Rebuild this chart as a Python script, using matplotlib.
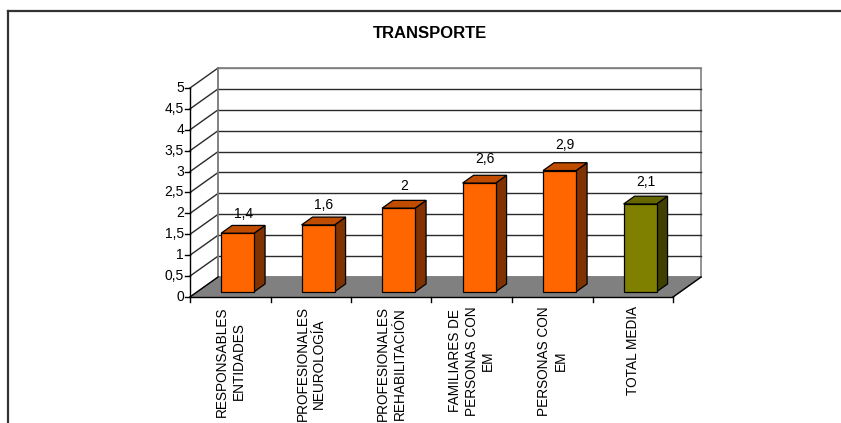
import matplotlib
matplotlib.use("Agg")
import matplotlib.pyplot as plt
from matplotlib.patches import Polygon, Rectangle
from matplotlib.lines import Line2D

plt.rcParams['font.family'] = ['Liberation Sans', 'DejaVu Sans']

# ---- data -------------------------------------------------------------
title = "TRANSPORTE"
categories = [
    "RESPONSABLES\nENTIDADES",
    "PROFESIONALES\nNEUROLOGÍA",
    "PROFESIONALES\nREHABILITACIÓN",
    "FAMILIARES DE\nPERSONAS CON\nEM",
    "PERSONAS CON\nEM",
    "TOTAL MEDIA",
]
values = [1.4, 1.6, 2.0, 2.6, 2.9, 2.1]
value_labels = ["1,4", "1,6", "2", "2,6", "2,9", "2,1"]
y_ticks = [0, 0.5, 1, 1.5, 2, 2.5, 3, 3.5, 4, 4.5, 5]
y_tick_labels = ["0", "0,5", "1", "1,5", "2", "2,5", "3", "3,5", "4", "4,5", "5"]

# ---- styling ----------------------------------------------------------
orange = dict(front="#FF6600", top="#C04C00", side="#803300")
olive = dict(front="#808000", top="#666600", side="#404000")
bar_colors = [orange] * 5 + [olive]

W, H, DPI = 841, 423, 100
fig = plt.figure(figsize=(W / DPI, H / DPI), dpi=DPI)
fig.patch.set_facecolor("white")

# oblique depth of the 3-D box, in data units
DX, DY = 0.35, 0.48
n = len(categories)
ymax = 5

# axes placed so that the front plane maps to the plot area
x0_px, y0_px = 190, 297          # front-left origin (pixels from top-left)
sx, sy = 80.5, 41.8              # pixels per category / per unit
xlim = (0, n + DX)
ylim = (0, ymax + DY)
ax_w = (xlim[1] - xlim[0]) * sx
ax_h = (ylim[1] - ylim[0]) * sy
ax = fig.add_axes([x0_px / W, (H - y0_px) / H, ax_w / W, ax_h / H])
ax.set_xlim(*xlim)
ax.set_ylim(*ylim)
ax.axis("off")

grid_col = "#2a2a2a"
wall_edge = "#808080"

# back wall
ax.add_patch(Rectangle((DX, DY), n, ymax, facecolor="white",
                       edgecolor=wall_edge, lw=1.2, clip_on=False, zorder=1))
# floor
ax.add_patch(Polygon([(0, 0), (n, 0), (n + DX, DY), (DX, DY)], closed=True,
                     facecolor="#808080", edgecolor="#808080", lw=1,
                     clip_on=False, zorder=2))

# gridlines on back wall and side wall
for v in y_ticks[1:]:
    col = wall_edge if v == ymax else grid_col
    ax.add_line(Line2D([DX, n + DX], [v + DY, v + DY], color=col, lw=1,
                       clip_on=False, zorder=1.5))
    ax.add_line(Line2D([0, DX], [v, v + DY], color=grid_col, lw=1,
                       clip_on=False, zorder=1.5))
ax.add_line(Line2D([DX, DX], [DY, ymax + DY], color=wall_edge, lw=1.2,
                   clip_on=False, zorder=1.6))

# floor edges and axes
ax.add_line(Line2D([0, DX], [0, DY], color="black", lw=1, clip_on=False, zorder=3))
ax.add_line(Line2D([n, n + DX], [0, DY], color="black", lw=1, clip_on=False, zorder=3))
ax.add_line(Line2D([0, n], [0, 0], color="black", lw=1, clip_on=False, zorder=3))
ax.add_line(Line2D([0, 0], [0, ymax], color="black", lw=1, clip_on=False, zorder=3))

# y ticks and labels
tick_len_x = 5 / sx
for v, lab in zip(y_ticks, y_tick_labels):
    ax.add_line(Line2D([-tick_len_x, 0], [v, v], color="black", lw=1,
                       clip_on=False, zorder=3))
    ax.annotate(lab, (0, v), xytext=(-6, 0), textcoords="offset pixels",
                ha="right", va="center", fontsize=10, color="black",
                annotation_clip=False)

# x ticks at category boundaries
tick_len_y = 5 / sy
for i in range(n + 1):
    ax.add_line(Line2D([i, i], [0, -tick_len_y], color="black", lw=1,
                       clip_on=False, zorder=3))

# category labels
for i, lab in enumerate(categories):
    ax.annotate(lab, (i + 0.5, 0), xytext=(0, -9), textcoords="offset pixels",
                rotation=90, ha="center", va="top", multialignment="center",
                fontsize=9.8, linespacing=1.22, color="black",
                annotation_clip=False)

# bars
z0, z1 = 0.26, 0.65
bw = 0.41
ddx, ddy = (z1 - z0) * DX, (z1 - z0) * DY
for i, (v, lab, c) in enumerate(zip(values, value_labels, bar_colors)):
    xl = i + 0.5 - bw / 2 + z0 * DX
    xr = xl + bw
    base = z0 * DY
    top = base + v
    ax.add_patch(Polygon([(xr, base), (xr + ddx, base + ddy), (xr + ddx, top + ddy), (xr, top)],
                         closed=True, facecolor=c["side"], edgecolor="black",
                         lw=0.9, clip_on=False, zorder=4))
    ax.add_patch(Polygon([(xl, top), (xr, top), (xr + ddx, top + ddy), (xl + ddx, top + ddy)],
                         closed=True, facecolor=c["top"], edgecolor="black",
                         lw=0.9, clip_on=False, zorder=4))
    ax.add_patch(Rectangle((xl, base), bw, v, facecolor=c["front"],
                           edgecolor="black", lw=0.9, clip_on=False, zorder=5))
    # label sits a little higher for taller bars (perspective of the label plane)
    gap = 5 + 4.5 * v
    ax.annotate(lab, (xl + bw / 2 + ddx / 2, top + ddy), xytext=(0, gap),
                textcoords="offset pixels", ha="center", va="center",
                fontsize=10, color="black", annotation_clip=False, zorder=6)

# title
fig.text(430 / W, 1 - 34 / H, title, ha="center", va="center",
         fontsize=12, fontweight="bold", color="black")

# chart area border (left and top edges)
bx, by = 8 / W, 1 - 11 / H
fig.add_artist(Line2D([bx, bx], [0, by], transform=fig.transFigure,
                      color="#333333", lw=1.6))
fig.add_artist(Line2D([bx, 1], [by, by], transform=fig.transFigure,
                      color="#333333", lw=1.6))

fig.savefig("out.png", dpi=DPI, facecolor="white")
